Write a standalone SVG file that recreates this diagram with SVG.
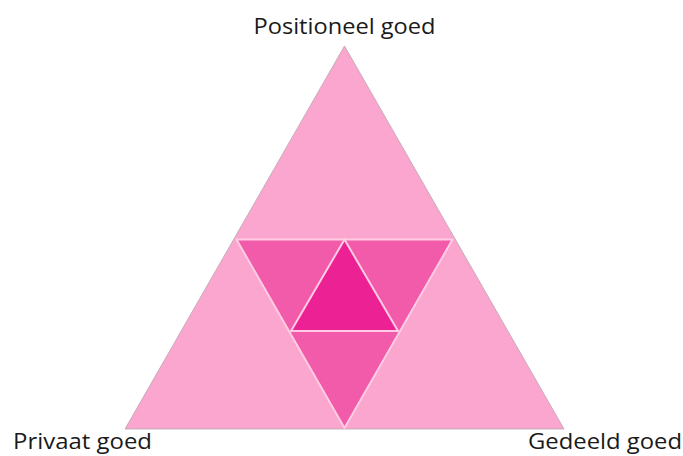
<svg xmlns="http://www.w3.org/2000/svg" width="683" height="456" viewBox="0 0 683 456">
<style>
.lbl{font-family:"Open Sans","Liberation Sans",sans-serif;font-size:22px;fill:#1a1a1a}
.inner{stroke:#FFCCE4;stroke-width:2;stroke-linejoin:miter}
</style>
<rect width="683" height="456" fill="#ffffff"/>
<g id="outer">
<polygon points="344.5,46 125,429 564,429" fill="#FBA6CE" stroke="#b9a3ad" stroke-width="0.8"/>
</g>
<g id="middle">
<polygon class="inner" points="236.5,239.5 452.5,239.5 344.5,428" fill="#F15BAA"/>
</g>
<g id="center">
<polygon class="inner" points="344.5,239.5 291,331 398,331" fill="#EC2294"/>
</g>
<g id="labels">
<text class="lbl" x="344.5" y="34" text-anchor="middle" textLength="182" lengthAdjust="spacingAndGlyphs">Positioneel goed</text>
<text class="lbl" x="13" y="449" textLength="139" lengthAdjust="spacingAndGlyphs">Privaat goed</text>
<text class="lbl" x="528" y="449" textLength="154" lengthAdjust="spacingAndGlyphs">Gedeeld goed</text>
</g>
</svg>
